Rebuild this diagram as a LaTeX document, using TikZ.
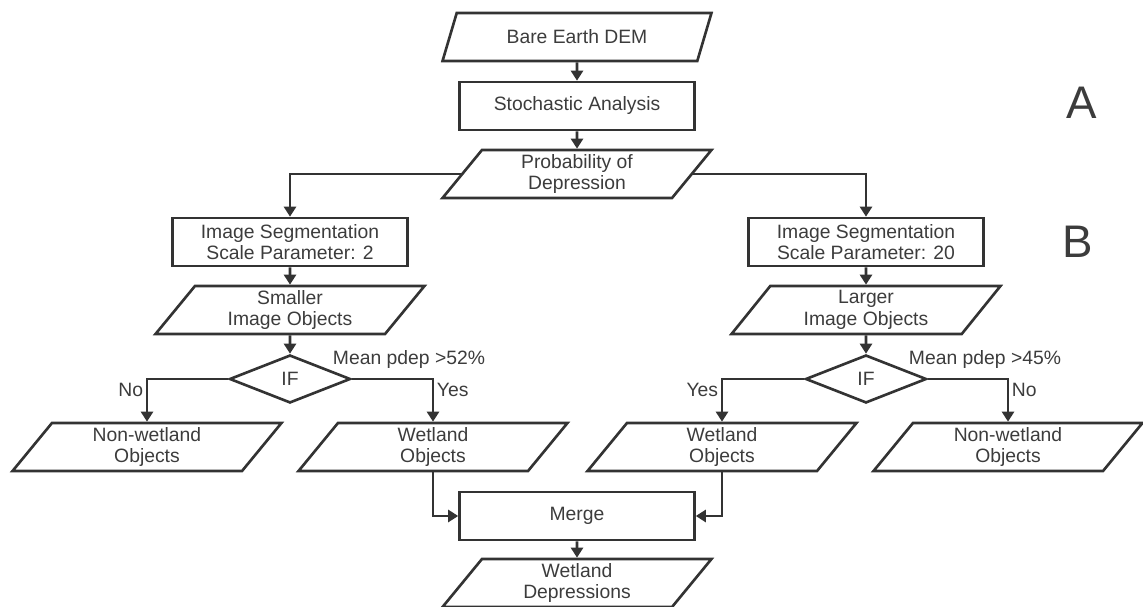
\documentclass[tikz,border=0pt]{standalone}
\usepackage{fontspec}
\setmainfont{Liberation Sans}
\usetikzlibrary{arrows.meta, positioning, shapes.geometric}
\definecolor{linegray}{HTML}{333333}
\definecolor{textgray}{HTML}{3C3C3C}
\tikzset{
  base/.style={draw=linegray, line width=1.5pt, text=textgray, align=center, inner sep=0pt,
    font=\fontsize{11}{12.2}\selectfont},
  proc/.style={base, rectangle, minimum width=4.7cm, minimum height=0.96cm},
  io/.style={base, trapezium, trapezium left angle=45, trapezium right angle=135,
    trapezium stretches body, minimum width=5.38cm, minimum height=0.96cm},
  decide/.style={base, diamond, minimum width=2.42cm, minimum height=0.96cm},
  arr/.style={draw=linegray, line width=1.5pt, -{Triangle[length=0.2cm, width=0.24cm]}},
  lbl/.style={text=textgray, inner sep=1.5pt, font=\fontsize{11}{12.2}\selectfont},
  part/.style={text=textgray, inner sep=0pt, font=\fontsize{26}{28}\selectfont}
}
\begin{document}
\begin{tikzpicture}[x=0.02cm, y=-0.02cm]
\useasboundingbox (0,0) rectangle (1143,607);

\node[io] (dem) at (577,37) {Bare Earth DEM};
\node[proc] (stoch) at (577,106) {Stochastic Analysis};
\node[io] (prob) at (577,174) {Probability of\\Depression};

\node[proc] (segL) at (290,242) {Image Segmentation\\Scale Parameter: 2};
\node[proc] (segR) at (866,242) {Image Segmentation\\Scale Parameter: 20};
\node[io] (smallObj) at (290,310) {Smaller\\Image Objects};
\node[io] (largeObj) at (866,310) {Larger\\Image Objects};

\node[decide] (ifL) at (290,379) {IF};
\node[decide] (ifR) at (866,379) {IF};
\node[lbl, anchor=base west] (condL) at ([xshift=0.8cm, yshift=-0.22cm]ifL.north) {Mean pdep >52\%};
\node[lbl, anchor=base west] (condR) at ([xshift=0.8cm, yshift=-0.22cm]ifR.north) {Mean pdep >45\%};

\node[io] (nwL) at (147,447) {Non-wetland\\Objects};
\node[io] (wetL) at (433,447) {Wetland\\Objects};
\node[io] (wetR) at (722,447) {Wetland\\Objects};
\node[io] (nwR) at (1008,447) {Non-wetland\\Objects};

\node[proc] (merge) at (577,516) {Merge};
\node[io] (dep) at (577,583) {Wetland\\Depressions};

\node[part] (labA) at (1082,103) {A};
\node[part] (labB) at (1078,242) {B};

\draw[arr] (dem) -- (stoch);
\draw[arr] (stoch) -- (prob);
\draw[arr] (prob.west) -| (segL.north);
\draw[arr] (prob.east) -| (segR.north);
\draw[arr] (segL) -- (smallObj);
\draw[arr] (segR) -- (largeObj);
\draw[arr] (smallObj) -- (ifL);
\draw[arr] (largeObj) -- (ifR);

\draw[arr] (ifL.west) -| node[lbl, pos=0.5, anchor=north east] {No} (nwL.north);
\draw[arr] (ifL.east) -| node[lbl, pos=0.5, anchor=north west] {Yes} (wetL.north);
\draw[arr] (ifR.west) -| node[lbl, pos=0.5, anchor=north east] {Yes} (wetR.north);
\draw[arr] (ifR.east) -| node[lbl, pos=0.5, anchor=north west] {No} (nwR.north);

\draw[arr] (wetL.south) |- (merge.west);
\draw[arr] (wetR.south) |- (merge.east);
\draw[arr] (merge) -- (dep);
\end{tikzpicture}
\end{document}
